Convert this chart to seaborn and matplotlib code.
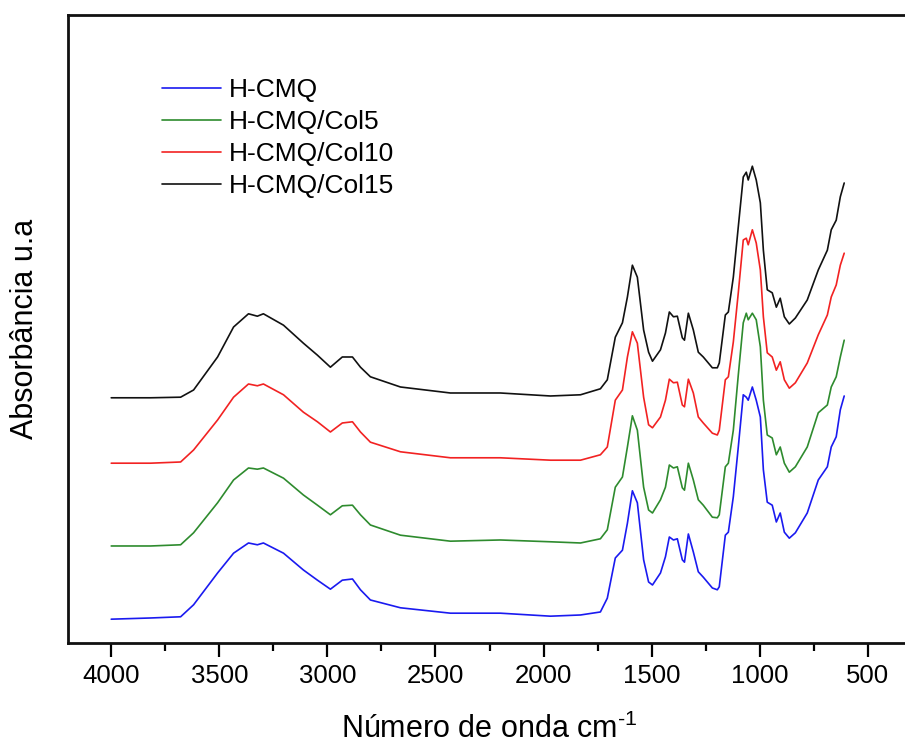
import numpy as np
import pandas as pd
import matplotlib
matplotlib.use("Agg")
import matplotlib.pyplot as plt
import seaborn as sns

# Wavenumber grid (cm-1) shared by all spectra
wavenumber = [4000, 3818, 3679, 3619, 3508, 3434, 3365, 3324, 3296, 3203,
              3111, 3046, 2986, 2931, 2884, 2847, 2801, 2662, 2431, 2200,
              1968, 1829, 1737, 1705, 1668, 1635, 1612, 1589, 1566, 1537,
              1514, 1496, 1459, 1436, 1418, 1399, 1381, 1358, 1348, 1330,
              1307, 1284, 1261, 1219, 1196, 1187, 1159, 1145, 1122, 1099,
              1076, 1062, 1053, 1034, 1016, 997, 983, 965, 942, 923,
              905, 886, 863, 835, 780, 729, 687, 669, 646, 627, 609]

# Absorbance (a.u., stacked) for each sample
h_cmq = [0.038, 0.040, 0.042, 0.062, 0.115, 0.148, 0.165, 0.162, 0.165, 0.148,
         0.120, 0.103, 0.088, 0.103, 0.105, 0.087, 0.070, 0.057, 0.048, 0.048,
         0.043, 0.045, 0.050, 0.073, 0.140, 0.153, 0.198, 0.252, 0.232, 0.137,
         0.100, 0.095, 0.115, 0.142, 0.175, 0.170, 0.172, 0.137, 0.133, 0.180,
         0.150, 0.117, 0.108, 0.090, 0.087, 0.092, 0.178, 0.183, 0.242, 0.325,
         0.412, 0.408, 0.403, 0.425, 0.403, 0.375, 0.287, 0.233, 0.228, 0.200,
         0.215, 0.183, 0.173, 0.182, 0.215, 0.270, 0.292, 0.325, 0.342, 0.387, 0.410]

h_cmq_col5 = [0.160, 0.160, 0.162, 0.182, 0.232, 0.270, 0.290, 0.288, 0.290, 0.273,
              0.245, 0.228, 0.212, 0.227, 0.228, 0.212, 0.195, 0.178, 0.168, 0.170,
              0.167, 0.165, 0.172, 0.187, 0.258, 0.275, 0.325, 0.377, 0.353, 0.258,
              0.220, 0.215, 0.237, 0.258, 0.295, 0.290, 0.292, 0.257, 0.253, 0.298,
              0.270, 0.237, 0.228, 0.208, 0.207, 0.212, 0.292, 0.298, 0.353, 0.445,
              0.532, 0.548, 0.537, 0.548, 0.537, 0.492, 0.403, 0.345, 0.340, 0.312,
              0.325, 0.298, 0.283, 0.292, 0.325, 0.382, 0.395, 0.425, 0.442, 0.475, 0.503]

h_cmq_col10 = [0.298, 0.298, 0.300, 0.320, 0.370, 0.408, 0.430, 0.427, 0.430, 0.412,
               0.383, 0.367, 0.350, 0.365, 0.367, 0.350, 0.333, 0.317, 0.307, 0.307,
               0.303, 0.303, 0.312, 0.325, 0.403, 0.420, 0.475, 0.517, 0.498, 0.408,
               0.362, 0.357, 0.375, 0.403, 0.438, 0.432, 0.433, 0.395, 0.392, 0.438,
               0.415, 0.375, 0.365, 0.348, 0.345, 0.353, 0.437, 0.442, 0.500, 0.582,
               0.670, 0.673, 0.662, 0.687, 0.665, 0.620, 0.542, 0.482, 0.475, 0.453,
               0.467, 0.437, 0.423, 0.432, 0.465, 0.512, 0.545, 0.575, 0.595, 0.628, 0.648]

h_cmq_col15 = [0.407, 0.407, 0.408, 0.420, 0.475, 0.525, 0.547, 0.543, 0.547, 0.528,
               0.498, 0.478, 0.458, 0.475, 0.475, 0.458, 0.442, 0.425, 0.415, 0.415,
               0.410, 0.412, 0.422, 0.437, 0.508, 0.532, 0.575, 0.628, 0.608, 0.520,
               0.483, 0.468, 0.487, 0.515, 0.550, 0.542, 0.543, 0.507, 0.503, 0.548,
               0.520, 0.483, 0.475, 0.457, 0.457, 0.465, 0.545, 0.550, 0.608, 0.692,
               0.775, 0.783, 0.770, 0.793, 0.770, 0.732, 0.653, 0.587, 0.582, 0.558,
               0.573, 0.542, 0.530, 0.540, 0.570, 0.620, 0.653, 0.687, 0.703, 0.742, 0.765]

samples = ["H-CMQ", "H-CMQ/Col5", "H-CMQ/Col10", "H-CMQ/Col15"]
colors = ["#1a1af0", "#2e8b2e", "#f22222", "#111111"]

df = pd.concat([
    pd.DataFrame({"wn": wavenumber, "abs": vals, "amostra": name})
    for name, vals in zip(samples, [h_cmq, h_cmq_col5, h_cmq_col10, h_cmq_col15])
], ignore_index=True)

sns.set_style("ticks")
plt.rcParams["font.family"] = ["Liberation Sans", "DejaVu Sans"]
plt.rcParams["mathtext.fontset"] = "custom"
plt.rcParams["mathtext.rm"] = "Liberation Sans"
plt.rcParams["text.color"] = "black"
plt.rcParams["axes.labelcolor"] = "black"
plt.rcParams["xtick.color"] = "black"
plt.rcParams["xtick.labelcolor"] = "black"

W, H = 905, 744
fig = plt.figure(figsize=(W / 100, H / 100), dpi=100)
left, top, bottom, right = 68, 15, 643, 911
ax = fig.add_axes([left / W, 1 - bottom / H, (right - left) / W, (bottom - top) / H])

sns.lineplot(data=df, x="wn", y="abs", hue="amostra", hue_order=samples,
             palette=colors, sort=False, estimator=None, linewidth=1.2, ax=ax)

ax.set_xlim(4200, 300)
ax.set_ylim(-0.0017, 1.045)
ax.set_xticks([4000, 3500, 3000, 2500, 2000, 1500, 1000, 500])
ax.set_xticks(np.arange(3750, 300, -500), minor=True)
ax.tick_params(axis="x", which="major", direction="out", length=10, width=1.6,
               labelsize=18.5, pad=5)
ax.tick_params(axis="x", which="minor", direction="out", length=6, width=1.6)
ax.set_yticks([])
for s in ax.spines.values():
    s.set_linewidth(2.0)
    s.set_color("#111111")

ax.set_xlabel("Número de onda cm$^{\\text{-1}}$", fontsize=22)
ax.xaxis.set_label_coords(0.5, -0.113)
ax.set_ylabel("Absorbância u.a", fontsize=22)
ax.yaxis.set_label_coords(-0.033, 0.5)

leg = ax.legend(loc="upper left",
                bbox_to_anchor=((162 - left) / (right - left), (bottom - 78) / (bottom - top)),
                frameon=False, fontsize=19, handlelength=2.25, handletextpad=0.3,
                labelspacing=0.3, borderpad=0, borderaxespad=0)
for line in leg.get_lines():
    line.set_linewidth(1.2)

fig.savefig("out.png", dpi=100)
